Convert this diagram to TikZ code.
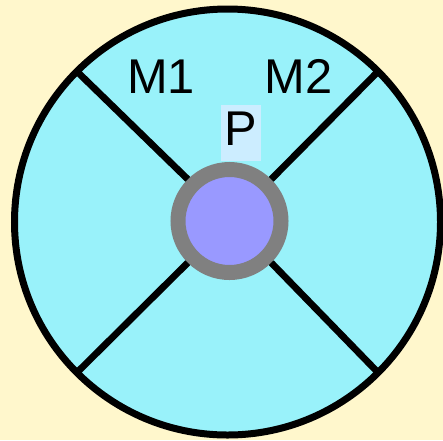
\documentclass[tikz,border=0pt]{standalone}
\usepackage{fontspec}
\setmainfont{Liberation Sans}
\usepackage{tikz}
\usetikzlibrary{calc}
\definecolor{cream}{rgb}{1.00,0.97,0.80}
\definecolor{paleaqua}{rgb}{0.60,0.95,0.98}
\definecolor{lavenderblue}{rgb}{0.60,0.60,1.00}
\definecolor{paleazure}{rgb}{0.80,0.93,1.00}
\tikzset{
  rueda/.style={
    circle,
    draw=black,
    fill=paleaqua,
    line width=3.5pt,
    minimum size=213pt,
    inner sep=0pt,
    outer sep=0pt
  },
  eje/.style={
    circle,
    draw=gray,
    fill=lavenderblue,
    line width=7.5pt,
    minimum size=51.5pt,
    inner sep=0pt
  },
  radio/.style={
    line width=3.4pt,
    black
  },
  rotulo/.style={
    anchor=base,
    inner sep=0pt,
    font=\fontsize{24.4}{28}\selectfont
  }
}

\begin{document}
\begin{tikzpicture}[x=0.5pt,y=-0.5pt]
\fill[cream] (0,0) rectangle (443,440);
\useasboundingbox (0,0) rectangle (443,440);
\node[rueda] (w) at (227.5,222) {};
\node[eje] (p) at (229.5,221) {};
\draw[radio] (p.135) -- (w.135);
\draw[radio] (p.45) -- (w.45);
\draw[radio] (p.225) -- (w.225);
\draw[radio] (p.315) -- (w.315);
\node[rotulo] (m1) at (161,93) {M1};
\node[rotulo] (m2) at (298.5,93) {M2};
\node[rotulo,fill=paleazure,text height=20pt,text depth=8pt,minimum width=20pt] (pl) at (241,145) {P};
\end{tikzpicture}
\end{document}
